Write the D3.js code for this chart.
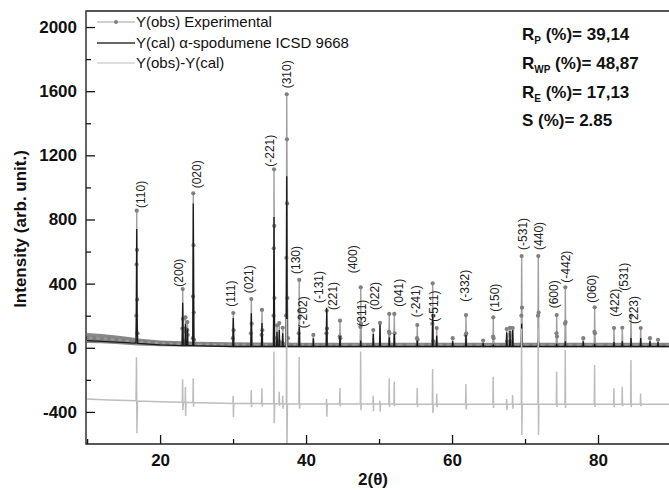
<!DOCTYPE html>
<html><head><meta charset="utf-8">
<script src="https://cdn.jsdelivr.net/npm/d3@7"></script>
<style>
body{margin:0;background:#fff;}
text{font-family:"Liberation Sans",Arial,sans-serif;}
</style></head>
<body><svg id="c" width="669" height="490"></svg>
<script>
// ---------------- data ----------------
const xTicks = [20, 40, 60, 80];
const xMinorTicks = [10, 30, 50, 70, 90];
const yTicks = [-400, 0, 400, 800, 1200, 1600, 2000];
const yMinorTicks = [-200, 200, 600, 1000, 1400, 1800];

const legendLabels = ["Y(obs) Experimental", "Y(cal) \u03b1-spodumene ICSD 9668", "Y(obs)-Y(cal)"];
const statNames = ["R", "R", "R", "S"];
const statSubs = ["P", "WP", "E", ""];
const statValues = [" (%)= 39,14", " (%)= 48,87", " (%)= 17,13", " (%)= 2.85"];

// observed scatter band near the background (2theta, low, high)
const bandTheta = [10, 12, 14, 16, 17, 20, 25, 30, 40, 60, 80, 90];
const bandLow   = [30, 28, 24, 18, 14, 10, 6, 4, 4, 4, 4, 4];
const bandHigh  = [92, 86, 76, 66, 58, 46, 38, 34, 32, 32, 32, 32];

// Y(obs) experimental points [2theta, intensity]
const obsPoints = [
[10,62],[11,60],[12,57],[13,54],[14,50],[15,46],[16,42],[16.6,40],
[16.68,40],[16.74,200],[16.77,520],[16.8,855],[16.83,610],[16.86,300],[16.9,90],[16.96,38],
[18,34],[19,31],[20,28],[21,26],[22,24],[23,23],
[23.02,23],[23.06,120],[23.1,366],[23.13,180],[23.18,40],
[23.42,30],[23.46,120],[23.48,190],[23.51,100],
[23.72,110],[23.75,160],[23.78,80],[23.84,25],
[24.4,22],[24.48,60],[24.51,320],[24.55,963],[24.58,640],[24.61,220],[24.66,50],[24.75,22],
[26,20],[27,20],[28,19],[29,18],[29.9,18],
[29.97,60],[30.03,217],[30.07,110],[30.14,18],
[31,18],[32,18],[32.4,18],[32.45,90],[32.5,304],[32.54,150],[32.62,18],
[33.86,18],[33.91,80],[33.96,236],[34.0,110],[34.08,18],
[35,17],[35.5,17],[35.55,200],[35.58,620],[35.61,1113],[35.64,760],[35.67,310],[35.72,60],[35.8,20],
[35.96,20],[36.02,140],[36.08,30],[36.28,40],[36.33,154],[36.38,30],[36.74,30],[36.8,125],[36.86,25],
[37.2,18],[37.27,200],[37.31,560],[37.35,1581],[37.38,1300],[37.41,900],[37.45,310],[37.52,60],[37.6,20],
[38,17],[38.9,17],[39.0,90],[39.04,230],[39.07,423],[39.1,190],[39.16,17],
[40,16],[40.94,16],[41.0,80],[41.06,16],
[42,16],[42.74,16],[42.79,90],[42.83,231],[42.87,120],[42.93,16],
[43.8,16],[44.58,16],[44.62,70],[44.65,169],[44.69,60],[44.75,16],
[46,16],[47.4,16],[47.45,130],[47.49,377],[47.53,150],[47.6,16],
[48.5,16],[49.14,16],[49.21,111],[49.28,16],
[50.06,16],[50.13,155],[50.2,16],
[51.32,16],[51.36,100],[51.40,211],[51.44,90],[51.5,16],
[52.02,16],[52.09,211],[52.13,90],[52.2,16],
[53.5,16],[55.16,16],[55.2,60],[55.24,142],[55.28,50],[55.34,16],
[56.5,16],[57.26,16],[57.31,150],[57.35,402],[57.39,200],[57.45,40],[57.84,20],[57.9,123],[57.96,20],
[59,16],[60.03,16],[60.09,60],[60.15,16],
[61.83,16],[61.87,80],[61.91,204],[61.95,90],[62.0,16],
[63,16],[64.2,16],[64.26,45],[64.32,16],
[65.58,16],[65.62,70],[65.65,190],[65.69,60],[65.76,16],
[66.8,16],[67.43,16],[67.49,117],[67.55,40],[67.94,125],[68.0,40],[68.31,123],[68.38,16],
[69.46,16],[69.5,200],[69.54,572],[69.58,250],[69.64,16],
[70.8,16],[71.74,16],[71.78,200],[71.82,572],[71.86,220],[71.92,16],
[73,16],[74.27,16],[74.31,90],[74.34,204],[74.38,70],[74.44,16],
[75.45,16],[75.49,150],[75.52,377],[75.56,160],[75.62,16],
[76.8,16],[77.92,16],[77.98,60],[78.04,16],
[79.47,16],[79.51,100],[79.54,252],[79.58,90],[79.64,16],
[81,16],[82.13,16],[82.19,123],[82.25,16],
[83.27,16],[83.33,125],[83.39,16],
[84.46,16],[84.52,200],[84.58,16],
[85.79,16],[85.85,123],[85.91,16],
[87.06,16],[87.12,60],[87.18,16],
[88.16,16],[88.22,50],[88.28,16],[89,16],[90,16]
];

// Y(cal) points [2theta, intensity]
const calPoints = [
[10,45],[12,40],[14,35],[16,30],[16.7,29],[16.75,200],[16.8,740],[16.85,200],[16.92,28],
[20,18],[23.02,14],[23.1,280],[23.18,14],[23.42,14],[23.48,150],[23.54,14],[23.7,14],[23.75,120],[23.8,14],
[24.47,13],[24.55,900],[24.63,13],
[27,10],[29.96,8],[30.03,185],[30.1,8],[32.43,8],[32.5,215],[32.57,8],[33.89,8],[33.96,155],[34.03,8],
[35.54,8],[35.61,815],[35.68,8],[35.96,8],[36.02,100],[36.08,8],[36.28,8],[36.33,110],[36.38,8],[36.74,8],[36.8,90],[36.86,8],
[37.28,8],[37.35,1070],[37.42,8],
[39.0,8],[39.07,130],[39.14,8],[40.95,8],[41.0,60],[41.05,8],[42.76,8],[42.83,250],[42.9,8],[44.59,8],[44.65,75],[44.71,8],
[47.43,8],[47.49,45],[47.55,8],[49.15,8],[49.21,85],[49.27,8],[50.07,8],[50.13,145],[50.19,8],[51.34,8],[51.40,65],[51.46,8],[52.03,8],[52.09,85],[52.15,8],
[55.18,8],[55.24,45],[55.3,8],[57.29,8],[57.35,210],[57.41,8],[57.84,8],[57.9,75],[57.96,8],[60.03,8],[60.09,40],[60.15,8],
[61.85,8],[61.91,80],[61.97,8],[64.2,8],[64.26,30],[64.32,8],[65.59,8],[65.65,20],[65.71,8],
[67.43,8],[67.49,95],[67.55,8],[67.88,8],[67.94,105],[68.0,8],[68.25,8],[68.31,110],[68.37,8],
[69.48,8],[69.54,150],[69.6,8],[71.76,8],[71.82,50],[71.88,8],[74.28,8],[74.34,25],[74.4,8],[75.46,8],[75.52,40],[75.58,8],
[77.92,8],[77.98,40],[78.04,8],[79.48,8],[79.54,25],[79.6,8],[82.13,8],[82.19,35],[82.25,8],[83.27,8],[83.33,40],[83.39,8],
[84.46,8],[84.52,60],[84.58,8],[85.79,8],[85.85,60],[85.91,8],[87.06,8],[87.12,40],[87.18,8],[88.16,8],[88.22,35],[88.28,8],[90,8]
];

// Y(obs)-Y(cal) difference points [2theta, value incl. plot offset]
const diffPoints = [
[10,-320],[13,-325],[16.7,-330],[16.77,-59],[16.83,-533],[16.9,-332],
[20,-336],[23.04,-340],[23.09,-197],[23.13,-388],[23.2,-340],[23.44,-340],[23.47,-245],[23.5,-425],[23.56,-340],
[24.5,-341],[24.54,-190],[24.58,-367],[24.63,-342],
[27,-344],[29.98,-347],[30.01,-300],[30.05,-433],[30.1,-347],
[32.45,-348],[32.49,-263],[32.53,-370],[32.58,-348],
[33.92,-348],[33.95,-253],[33.99,-365],[34.03,-348],
[35.56,-349],[35.6,-24],[35.64,-471],[35.7,-349],
[36.28,-349],[36.32,-274],[36.36,-360],[36.42,-349],
[36.76,-349],[36.8,-300],[36.84,-380],[36.9,-349],
[37.3,-350],[37.34,180],[37.38,-700],[37.44,-350],
[39.02,-350],[39.06,-57],[39.1,-380],[39.16,-350],
[42.78,-350],[42.81,-320],[42.85,-430],[42.9,-350],
[44.6,-350],[44.64,-251],[44.68,-365],[44.72,-350],
[47.44,-351],[47.48,-24],[47.52,-390],[47.57,-351],
[49.16,-351],[49.2,-300],[49.24,-395],[49.28,-351],
[50.08,-351],[50.11,-330],[50.15,-399],[50.2,-351],
[51.35,-351],[51.39,-190],[51.43,-370],[51.48,-351],
[52.04,-351],[52.08,-212],[52.12,-365],[52.17,-351],
[55.19,-352],[55.23,-251],[55.27,-370],[55.32,-352],
[57.3,-352],[57.34,-132],[57.38,-407],[57.44,-352],
[57.86,-352],[57.9,-285],[57.94,-370],[58,-352],
[61.86,-352],[61.9,-226],[61.94,-385],[62,-352],
[65.6,-352],[65.64,-180],[65.68,-375],[65.74,-352],
[67.44,-352],[67.48,-320],[67.52,-388],[67.58,-352],[68.26,-352],[68.3,-295],[68.34,-380],[68.4,-352],
[69.49,-352],[69.53,120],[69.57,-544],[69.62,-352],
[71.77,-352],[71.81,120],[71.85,-544],[71.9,-352],
[74.29,-352],[74.33,-149],[74.37,-370],[74.42,-352],
[75.47,-352],[75.51,-14],[75.55,-375],[75.6,-352],
[79.49,-352],[79.53,-107],[79.57,-370],[79.62,-352],
[82.14,-352],[82.18,-253],[82.22,-370],[82.28,-352],
[83.28,-352],[83.32,-243],[83.36,-365],[83.42,-352],
[84.47,-352],[84.51,-76],[84.55,-370],[84.6,-352],
[85.8,-352],[85.84,-285],[85.88,-365],[85.94,-352],
[90,-352]
];

// Miller index labels
const peakLabels = ["(110)","(200)","(020)","(111)","(021)","(-221)","(310)","(130)","(-202)","(-131)","(221)","(400)","(311)","(022)","(041)","(-241)","(-511)","(-332)","(150)","(-531)","(440)","(600)","(-442)","(060)","(422)","(531)","(223)"];
const peakLabelTheta = [17.39,22.63,25.02,29.67,32.18,35.06,37.35,38.62,39.62,41.81,43.73,46.47,47.62,49.44,52.64,55.02,57.53,61.71,65.88,69.76,71.82,74.01,75.61,79.13,82.33,83.60,84.93];
const peakLabelI = [872,381,994,256,340,1129,1618,460,121,279,236,464,131,236,256,190,163,287,225,610,610,246,406,281,194,356,148];

// ---------------- drawing ----------------
const svg = d3.select("#c");
const L = 86, R = 671, T = 11, B = 444;
const x = d3.scaleLinear().domain([9.85, 90]).range([L, R]);
const y = d3.scaleLinear().domain([-600, 2100]).range([B, T]);

svg.append("defs").append("clipPath").attr("id","clip")
  .append("rect").attr("x",L).attr("y",T).attr("width",R-L).attr("height",B-T);

const plot = svg.append("g").attr("clip-path","url(#clip)");

// obs scatter band
const band = bandTheta.map((t,i)=>[t,bandLow[i],bandHigh[i]]);
plot.append("path").datum(band)
  .attr("d", d3.area().x(d=>x(d[0])).y0(d=>y(d[1])).y1(d=>y(d[2])))
  .attr("fill","#888");

// obs line + dots
plot.append("path").datum(obsPoints)
  .attr("d", d3.line().x(d=>x(d[0])).y(d=>y(d[1])))
  .attr("fill","none").attr("stroke","#a0a0a0").attr("stroke-width",1.4);
plot.append("g").selectAll("circle").data(obsPoints).join("circle")
  .attr("cx",d=>x(d[0])).attr("cy",d=>y(d[1])).attr("r",2.1).attr("fill","#808080");

// calc line
plot.append("path").datum(calPoints)
  .attr("d", d3.line().x(d=>x(d[0])).y(d=>y(d[1])))
  .attr("fill","none").attr("stroke","#1a1a1a").attr("stroke-width",1.3);

// difference line
plot.append("path").datum(diffPoints)
  .attr("d", d3.line().x(d=>x(d[0])).y(d=>y(d[1])))
  .attr("fill","none").attr("stroke","#bdbdbd").attr("stroke-width",1.5);

// peak labels
svg.append("g").selectAll("text").data(peakLabels).join("text")
  .attr("transform",(d,i)=>`translate(${x(peakLabelTheta[i])},${y(peakLabelI[i])}) rotate(-90)`)
  .attr("dy","0.35em").attr("font-size",12).attr("fill","#222").text(d=>d);

// axes
const fontAxis = 17;
const fmt = d => String(d);
const gy = svg.append("g").attr("transform",`translate(${L},0)`)
  .call(d3.axisLeft(y).tickValues(yTicks).tickFormat(fmt).tickSizeInner(-9).tickSizeOuter(0).tickPadding(9));
const gym = svg.append("g").attr("transform",`translate(${L},0)`)
  .call(d3.axisLeft(y).tickValues(yMinorTicks).tickSizeInner(-5).tickSizeOuter(0).tickFormat(""));
const gx = svg.append("g").attr("transform",`translate(0,${B})`)
  .call(d3.axisBottom(x).tickValues(xTicks).tickFormat(fmt).tickSizeInner(-9).tickSizeOuter(0).tickPadding(10));
const gxm = svg.append("g").attr("transform",`translate(0,${B})`)
  .call(d3.axisBottom(x).tickValues(xMinorTicks).tickSizeInner(-5).tickSizeOuter(0).tickFormat(""));
[gy,gym,gx,gxm].forEach(g=>{
  g.select(".domain").remove();
  g.selectAll(".tick line").attr("stroke","#111").attr("stroke-width",1.3);
  g.selectAll("text").attr("font-size",fontAxis).attr("font-weight","bold").attr("fill","#111")
    .attr("font-family","'Liberation Sans',Arial,sans-serif");
});

// frame
svg.append("path").attr("d",`M${R},${T}H${L}V${B}H${R}`)
  .attr("fill","none").attr("stroke","#222").attr("stroke-width",1.4);
svg.append("line").attr("x1",L).attr("x2",R).attr("y1",T).attr("y2",T)
  .attr("stroke","#555").attr("stroke-width",1.6);

// axis titles
svg.append("text").attr("transform","translate(20,229) rotate(-90)")
  .attr("text-anchor","middle").attr("dy","0.35em").attr("font-size",17).attr("font-weight","bold")
  .attr("fill","#111").text("Intensity (arb. unit.)");
svg.append("text").attr("x",373).attr("y",485).attr("text-anchor","middle")
  .attr("font-size",17).attr("font-weight","bold").attr("fill","#111").text("2(\u03b8)");

// legend
const legY = [22, 43, 63];
const leg = svg.append("g");
const legColors = ["#a0a0a0","#333","#bdbdbd"];
legendLabels.forEach((lab,i)=>{
  leg.append("line").attr("x1",97).attr("x2",135).attr("y1",legY[i]).attr("y2",legY[i])
    .attr("stroke",legColors[i]).attr("stroke-width",i===1?1.4:1.2);
  if(i===0) leg.append("circle").attr("cx",116).attr("cy",legY[i]).attr("r",2).attr("fill","#808080");
  leg.append("text").attr("x",136).attr("y",legY[i]).attr("dy","0.35em")
    .attr("font-size",15).attr("fill","#111").text(lab);
});

// statistics
const statY = [40, 69, 98, 126];
statNames.forEach((n,i)=>{
  const t = svg.append("text").attr("x",522).attr("y",statY[i])
    .attr("font-size",17).attr("font-weight","bold").attr("fill","#111");
  t.append("tspan").text(n);
  if(statSubs[i]) t.append("tspan").attr("font-size",10).attr("dy",4).text(statSubs[i]);
  t.append("tspan").attr("dy",statSubs[i]?-4:0).text(statValues[i]);
});
</script>
</body></html>
